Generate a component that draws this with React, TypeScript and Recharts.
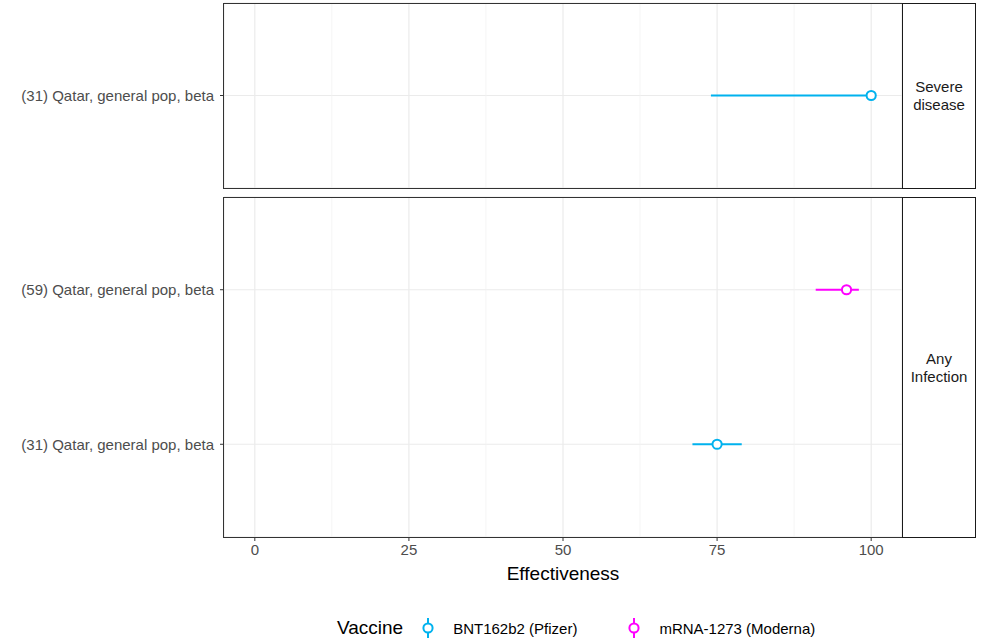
import React from "react";
import {
  ScatterChart,
  Scatter,
  XAxis,
  YAxis,
  CartesianGrid,
  ErrorBar,
  ReferenceLine,
} from "recharts";

// ---------- data ----------
const outcomes = ["Severe disease", "Any Infection"];
const vaccines = ["BNT162b2 (Pfizer)", "mRNA-1273 (Moderna)"];
const vaccineColors = ["#00B2EE", "#FF00FF"];

// Severe disease panel
const severeStudies = ["(31) Qatar, general pop, beta"];
const severeVaccine = [0];
const severeEst = [100];
const severeLow = [74];
const severeHigh = [100];

// Any infection panel (bottom to top)
const anyStudies = ["(31) Qatar, general pop, beta", "(59) Qatar, general pop, beta"];
const anyVaccine = [0, 1];
const anyEst = [75, 96];
const anyLow = [71, 91];
const anyHigh = [79, 98];

const xTicks = [0, 25, 50, 75, 100];
const xMinor = [12.5, 37.5, 62.5, 87.5];

const FONT = "'Liberation Sans', Arial, sans-serif";

type Row = { pos: number; est: number; err: [number, number]; study: string };

function buildRows(studies: string[], vacc: number[], est: number[], low: number[], high: number[], v: number): Row[] {
  const rows: Row[] = [];
  studies.forEach((s, i) => {
    if (vacc[i] === v) {
      rows.push({ pos: i + 1, est: est[i], err: [est[i] - low[i], high[i] - est[i]], study: s });
    }
  });
  return rows;
}

const makeShape = (color: string) => (props: any) => (
  <circle cx={props.cx} cy={props.cy} r={4.6} fill="#ffffff" stroke={color} strokeWidth={2} />
);

function Panel({
  studies, vacc, est, low, high, width, height, margin, showX,
}: {
  studies: string[]; vacc: number[]; est: number[]; low: number[]; high: number[];
  width: number; height: number; margin: any; showX: boolean;
}) {
  const yTicks = studies.map((_, i) => i + 1);
  return (
    <ScatterChart width={width} height={height} margin={margin}>
      <CartesianGrid stroke="#EBEBEB" strokeWidth={1.2} vertical={true} horizontal={true} />
      {xMinor.map((m) => (
        <ReferenceLine key={m} x={m} stroke="#F2F2F2" strokeWidth={0.8} />
      ))}
      <XAxis
        type="number"
        dataKey="est"
        domain={[-5, 105]}
        ticks={xTicks}
        allowDataOverflow
        hide={!showX}
        height={showX ? 50 : 0}
        axisLine={false}
        tickSize={4}
        tickMargin={3}
        tickLine={{ stroke: "#333333" }}
        tick={{ fill: "#4D4D4D", fontSize: 15, fontFamily: FONT }}
        label={showX ? { value: "Effectiveness", position: "insideBottom", offset: 7, fill: "#000", fontSize: 19, fontFamily: FONT } : undefined}
      />
      <YAxis
        type="number"
        dataKey="pos"
        domain={[0.4, studies.length + 0.6]}
        ticks={yTicks}
        allowDataOverflow
        width={224}
        axisLine={false}
        tickSize={4}
        tickMargin={6}
        tickLine={{ stroke: "#333333" }}
        tick={{ fill: "#4D4D4D", fontSize: 15, fontFamily: FONT }}
        tickFormatter={(v: number) => studies[v - 1] ?? ""}
      />
      {vaccines.map((name, v) => {
        const rows = buildRows(studies, vacc, est, low, high, v);
        if (rows.length === 0) return null;
        return (
          <Scatter
            key={name}
            name={name}
            data={rows}
            isAnimationActive={false}
            shape={makeShape(vaccineColors[v])}
          >
            <ErrorBar dataKey="err" direction="x" width={0} stroke={vaccineColors[v]} strokeWidth={2} />
          </Scatter>
        );
      })}
    </ScatterChart>
  );
}

const boxStyle = (left: number, top: number, width: number, height: number, color: string): React.CSSProperties => ({
  position: "absolute",
  left,
  top,
  width,
  height,
  border: `1px solid ${color}`,
  boxSizing: "border-box",
  pointerEvents: "none",
});

const stripStyle = (left: number, top: number, width: number, height: number): React.CSSProperties => ({
  ...boxStyle(left, top, width, height, "#1A1A1A"),
  display: "flex",
  alignItems: "center",
  justifyContent: "center",
  textAlign: "center",
  fontSize: 15,
  lineHeight: "18px",
  color: "#1A1A1A",
  fontFamily: FONT,
});

export default function App() {
  return (
    <div style={{ position: "absolute", left: 0, top: 0, width: 989, height: 642, background: "#fff", fontFamily: FONT }}>
      <div style={{ position: "absolute", left: 0, top: 0 }}>
        <Panel
          studies={severeStudies}
          vacc={severeVaccine}
          est={severeEst}
          low={severeLow}
          high={severeHigh}
          width={902}
          height={192}
          margin={{ top: 3, right: 0, bottom: 4, left: 0 }}
          showX={false}
        />
      </div>
      <div style={{ position: "absolute", left: 0, top: 192 }}>
        <Panel
          studies={anyStudies}
          vacc={anyVaccine}
          est={anyEst}
          low={anyLow}
          high={anyHigh}
          width={902}
          height={450}
          margin={{ top: 5, right: 0, bottom: 55, left: 0 }}
          showX={true}
        />
      </div>
      {/* panel borders */}
      <div style={boxStyle(223, 3, 680, 186, "#333333")} />
      <div style={boxStyle(223, 197, 680, 341, "#333333")} />
      {/* strips */}
      <div style={stripStyle(902, 3, 74, 186)}>
        <span>Severe<br />disease</span>
      </div>
      <div style={stripStyle(902, 197, 74, 341)}>
        <span>Any<br />Infection</span>
      </div>
      {/* legend */}
      <div style={{ position: "absolute", left: 337, top: 616, height: 24, display: "flex", alignItems: "center", fontFamily: FONT }}>
        <span style={{ fontSize: 19, color: "#000", marginRight: 14 }}>Vaccine</span>
        {vaccines.map((name, v) => (
          <span key={name} style={{ display: "flex", alignItems: "center", marginRight: 46 }}>
            <svg width={22} height={24} style={{ marginRight: 14 }}>
              <line x1={11} y1={2} x2={11} y2={22} stroke={vaccineColors[v]} strokeWidth={2} />
              <circle cx={11} cy={12} r={4.6} fill="#fff" stroke={vaccineColors[v]} strokeWidth={2} />
            </svg>
            <span style={{ fontSize: 15, color: "#000" }}>{name}</span>
          </span>
        ))}
      </div>
    </div>
  );
}
